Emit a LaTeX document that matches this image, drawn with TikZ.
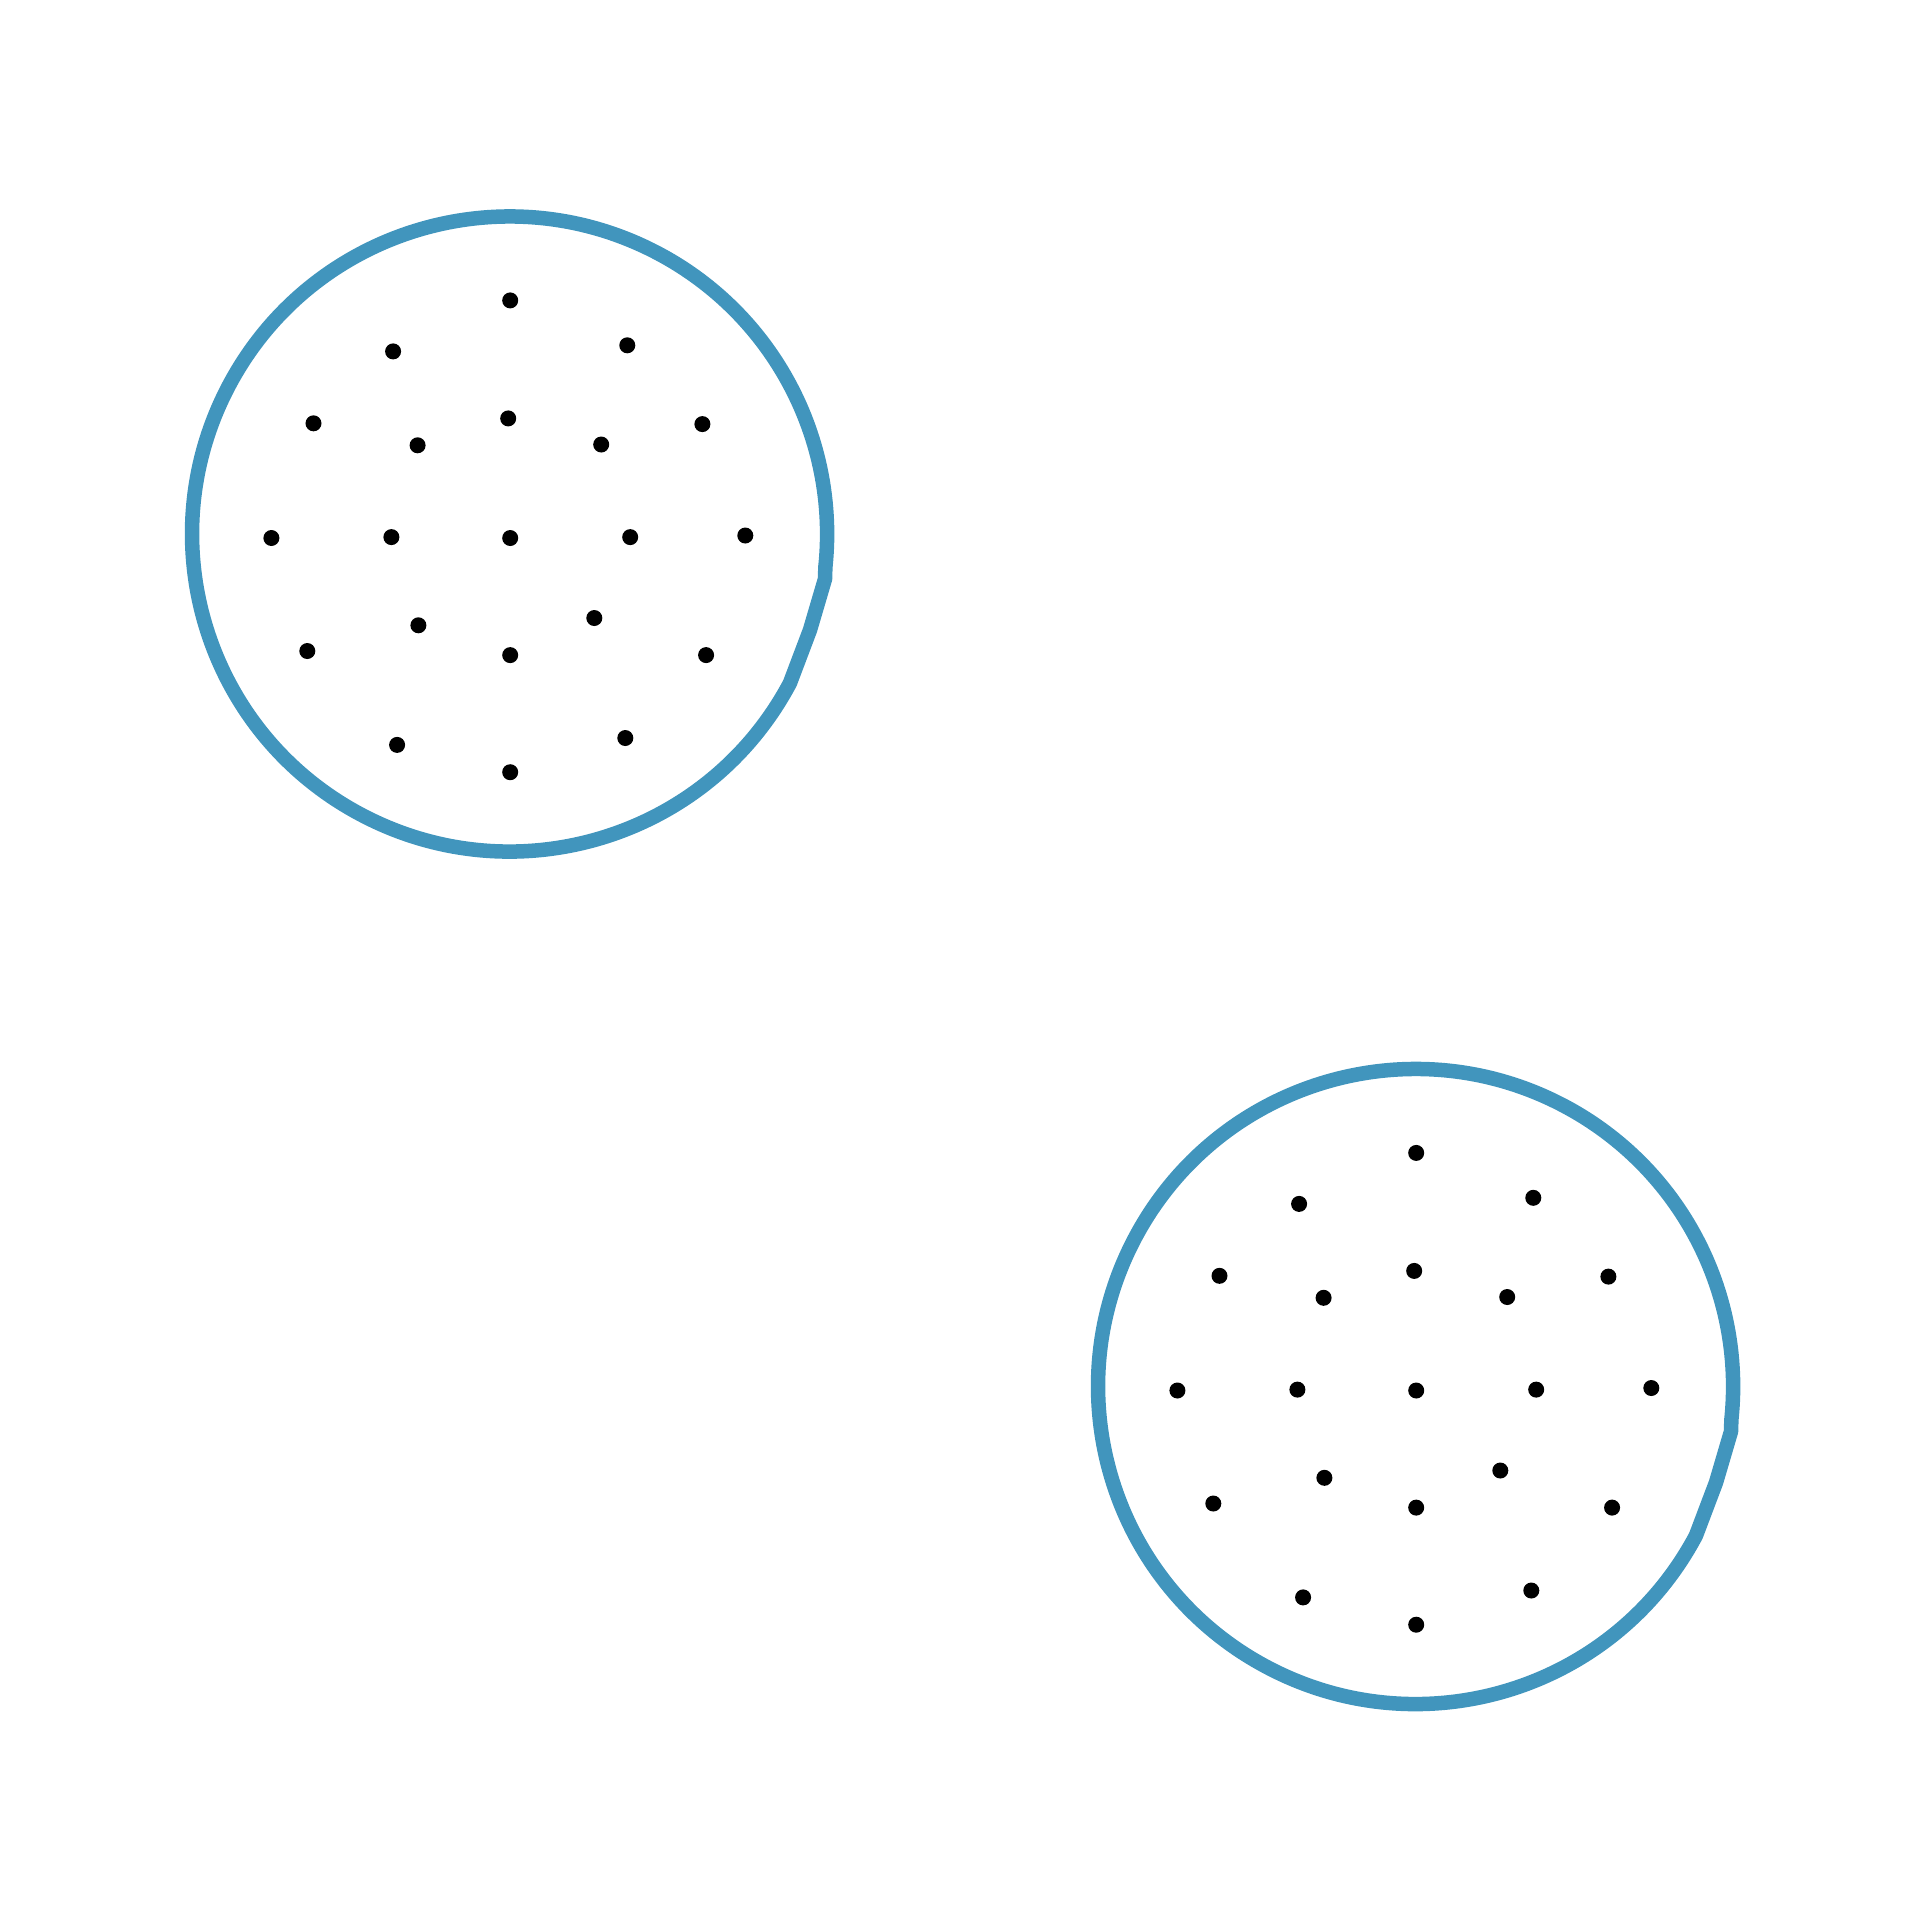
\documentclass[tikz,border=0pt]{standalone}
\definecolor{ringblue}{RGB}{65,149,189}
\begin{document}
\begin{tikzpicture}[x=0.01cm,y=-0.01cm,
  ring/.style={draw=ringblue,line width=0.145cm,line join=round},
  dot/.style={circle,fill=black,inner sep=0pt,minimum size=0.16cm}]
\useasboundingbox (0,0) rectangle (1920,1920);
\foreach \g/\sx/\sy in {1/0/0, 2/906/852.5}{
 \begin{scope}[shift={(\sx,\sy)}]
  \draw[ring] (789.94,683.06) arc[start angle=28,end angle=366,radius=317.5] -- (825,579) -- (810,630) -- cycle;
  \foreach \i/\px/\py in {1/510.2/300.4, 2/393.1/351.4, 3/627.3/345.3, 4/313.5/423.3,
     5/508.2/418.4, 6/417.6/445.3, 7/601.2/444.5, 8/702.4/424.1, 9/271.4/538,
     10/391.4/537.1, 11/510.2/538, 12/630.2/537.1, 13/745.3/535.5, 14/307.3/651,
     15/418.4/625.3, 16/510.2/655.1, 17/594.3/618, 18/706.1/655.1, 19/397.1/744.9,
     20/510.2/772.2, 21/625.3/738}{
    \node[dot] (d\g-\i) at (\px,\py) {};
  }
 \end{scope}}
\end{tikzpicture}
\end{document}
